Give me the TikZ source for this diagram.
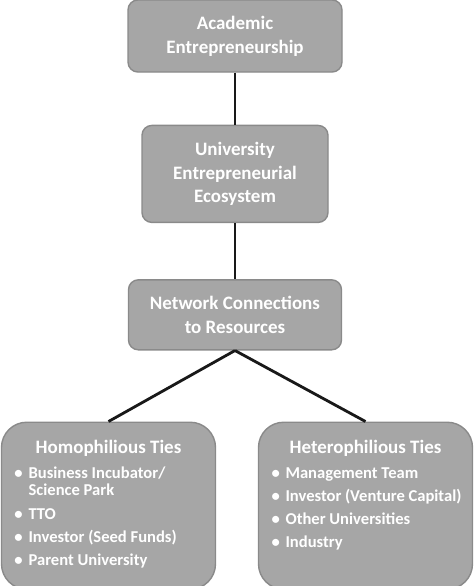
\documentclass[tikz,border=0pt]{standalone}
\usepackage{fontspec}
\setmainfont{Carlito}
\usepackage{xcolor}
\usetikzlibrary{positioning}
\definecolor{boxgray}{HTML}{A6A6A6}
\definecolor{edgegray}{HTML}{8A8A8A}
\newcommand{\tieitem}[1]{\par\hangindent=10pt\hangafter=1\makebox[10pt][l]{\textbullet}#1}
\newcommand{\tiehead}[1]{{\centering\fontsize{13.5}{16}\selectfont #1\par}\vspace{1pt}}
\tikzset{link/.style = { line width = 2pt, black!90 }}

\begin{document}
\begin{tikzpicture}[stage/.style = { draw = edgegray, line width = 1pt, fill = boxgray, rounded corners = 7pt, text = white, font = \bfseries\fontsize{13.5}{17}\selectfont, align = center },
                    ties/.style = { stage, rounded corners = 18pt, minimum width = 5.35cm, minimum height = 4.175cm, inner xsep = 0.275cm, inner ysep = 0.45cm }]
		\useasboundingbox (0,0) rectangle (11.85,-14.65);

		\node [stage, minimum width = 5.35cm, minimum height = 1.8cm] (acad) at (5.875,-0.9) {Academic\\Entrepreneurship};
		\node [stage, minimum width = 4.65cm, minimum height = 2.425cm, below = 1.3cm of acad] (ecos) {University\\Entrepreneurial\\Ecosystem};
		\node [stage, minimum width = 5.325cm, minimum height = 1.75cm, below = 1.4cm of ecos] (netw) {Network Connections\\to Resources};

		\node [ties, below = 1.775cm of netw, xshift = -3.1625cm] (homo) {%
			\begin{minipage}[t][3.275cm][t]{4.8cm}
				\tiehead{Homophilious Ties}
				\raggedright\leftskip=0.05cm\fontsize{11.8}{12.8}\selectfont\parskip=3.6pt
				\tieitem{Business Incubator/\newline Science Park}
				\tieitem{TTO}
				\tieitem{Investor (Seed Funds)}
				\tieitem{Parent University}
			\end{minipage}};
		\node [ties, below = 1.775cm of netw, xshift = 3.2625cm] (hete) {%
			\begin{minipage}[t][3.275cm][t]{4.8cm}
				\tiehead{Heterophilious Ties}
				\raggedright\leftskip=0.05cm\fontsize{11.8}{12.8}\selectfont\parskip=3.6pt
				\tieitem{Management Team}
				\tieitem{Investor (Venture Capital)}
				\tieitem{Other Universities}
				\tieitem{Industry}
			\end{minipage}};

		\draw [link] (acad) -- (ecos);
		\draw [link] (ecos) -- (netw);
		\draw [link] (netw.south) -- (homo.north);
		\draw [link] (netw.south) -- (hete.north);
	\end{tikzpicture}
\end{document}
